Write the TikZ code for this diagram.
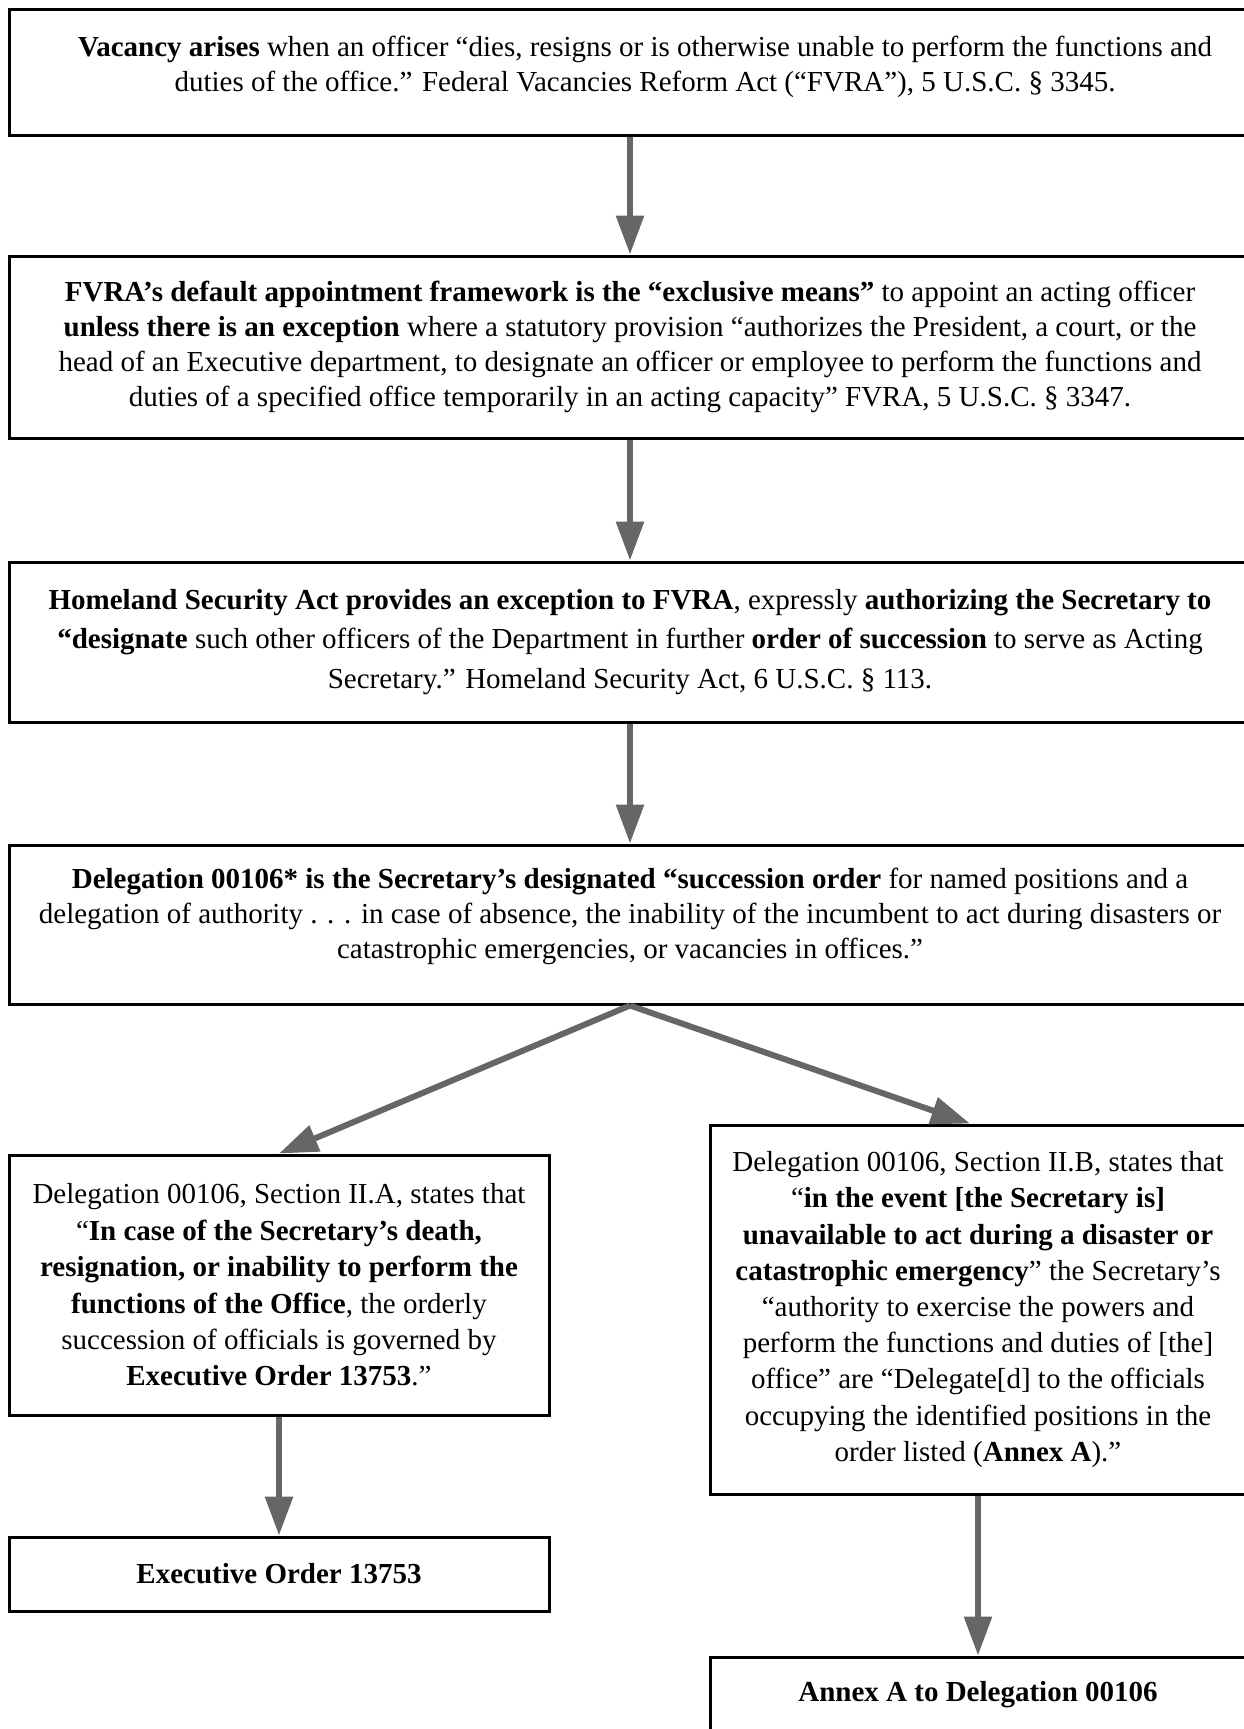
\documentclass[tikz,border=0pt]{standalone}
\usepackage{fontspec}
\setmainfont{Liberation Serif}
\usetikzlibrary{arrows.meta}
\definecolor{arrowgray}{RGB}{102,102,102}

\tikzset{
	box/.style={draw, line width=1.5pt, align=center, inner sep=0pt, font=\fontsize{14.5}{17.5}\selectfont},
	flow/.style={draw=arrowgray, line width=3pt, -{Triangle[length=19.5pt, width=13.5pt]}},
}

\begin{document}
\begin{tikzpicture}[x=0.5pt, y=-0.5pt]
			\useasboundingbox (0,0) rectangle (1243,1729);
			% Nodes
			\node[box, minimum width=636pt, minimum height=63pt, text depth=8pt] (box1) at (645,72) {\textbf{Vacancy arises} when an officer “dies, resigns or is otherwise unable to perform the functions and\\
				duties of the office.” Federal Vacancies Reform Act (“FVRA”), 5 U.S.C. § 3345.};
			\node[box, minimum width=621pt, minimum height=91pt] (box2) at (630,347) {\textbf{FVRA’s default appointment framework is the “exclusive means”} to appoint an acting officer\\
				\textbf{unless there is an exception} where a statutory provision “authorizes the President, a court, or the\\
				head of an Executive department, to designate an officer or employee to perform the functions and\\
				duties of a specified office temporarily in an acting capacity” FVRA, 5 U.S.C. § 3347.};
			\node[box, minimum width=621pt, minimum height=80pt, font=\fontsize{14.5}{19.8}\selectfont] (box3) at (630,642) {\textbf{Homeland Security Act provides an exception to FVRA}, expressly \textbf{authorizing the Secretary to}\\
				\textbf{“designate} such other officers of the Department in further \textbf{order of succession} to serve as Acting\\
				Secretary.” Homeland Security Act, 6 U.S.C. § 113.};
			\node[box, minimum width=621pt, minimum height=79.5pt, text depth=11.5pt] (box4) at (630,924.5) {\textbf{Delegation 00106* is the Secretary’s designated “succession order} for named positions and a\\
				delegation of authority . . . in case of absence, the inability of the incumbent to act during disasters or\\
				catastrophic emergencies, or vacancies in offices.”};
			\node[box, minimum width=270pt, minimum height=130pt, font=\fontsize{14.5}{18.2}\selectfont] (secA) at (279,1285) {Delegation 00106, Section II.A, states that\\
				“\textbf{In case of the Secretary’s death,}\\
				\textbf{resignation, or inability to perform the}\\
				\textbf{functions of the Office}, the orderly\\
				succession of officials is governed by\\
				\textbf{Executive Order 13753}.”};
			\node[box, minimum width=268pt, minimum height=184.5pt, font=\fontsize{14.5}{18.1}\selectfont] (secB) at (978,1309.5) {Delegation 00106, Section II.B, states that\\
				“\textbf{in the event [the Secretary is]}\\
				\textbf{unavailable to act during a disaster or}\\
				\textbf{catastrophic emergency}” the Secretary’s\\
				“authority to exercise the powers and\\
				perform the functions and duties of [the]\\
				office” are “Delegate[d] to the officials\\
				occupying the identified positions in the\\
				order listed (\textbf{Annex A}).”};
			\node[box, minimum width=270pt, minimum height=37pt] (eo) at (279,1574) {\textbf{Executive Order 13753}};
			\node[box, minimum width=268pt, minimum height=38pt] (annex) at (978,1695) {\textbf{Annex A to Delegation 00106}};
			% Arrows
			\draw[flow] (box1.south -| box2.north) -- (box2.north);
			\draw[flow] (box2) -- (box3);
			\draw[flow] (box3) -- (box4);
			\draw[flow] (box4.south) -- (secA.north);
			\draw[flow] (box4.south) -- ([xshift=-4pt]secB.north);
			\draw[flow] (secA) -- (eo);
			\draw[flow] (secB) -- (annex);
		\end{tikzpicture}
\end{document}
